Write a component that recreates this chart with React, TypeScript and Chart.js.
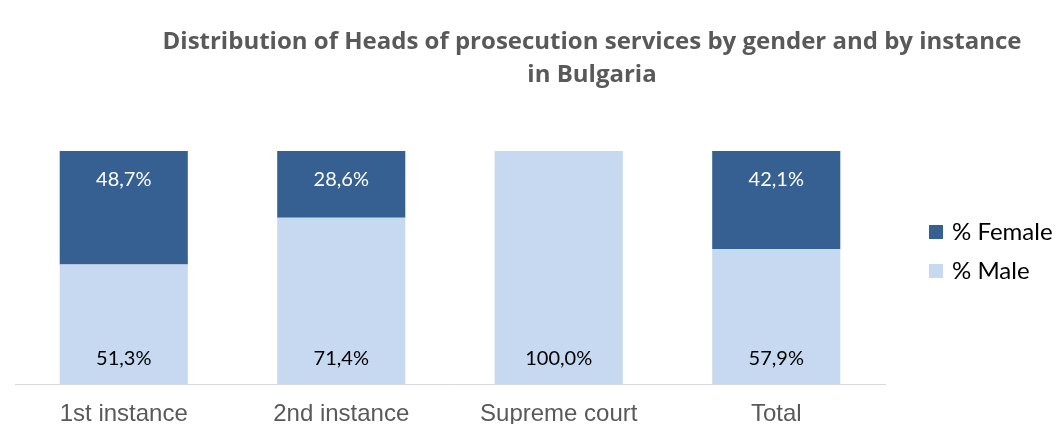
import React, { useEffect, useRef } from "react";
import { Chart, registerables } from "chart.js";

Chart.register(...registerables);

const categories = ["1st instance", "2nd instance", "Supreme court", "Total"];
const malePct = [51.3, 71.4, 100.0, 57.9];
const femalePct = [48.7, 28.6, 0, 42.1];
const seriesNames = ["% Male", "% Female"];
const titleLines = [
  "Distribution of Heads of prosecution services by gender and by instance",
  "in Bulgaria",
];

const MALE_COLOR = "#C6D9F1";
const FEMALE_COLOR = "#366092";
const LABEL_FONT = "Lato, 'Open Sans', sans-serif";

const fmt = (v: number) => v.toFixed(1).replace(".", ",") + "%";

const decorPlugin = {
  id: "decor",
  afterDraw(chart: any) {
    const ctx = chart.ctx;
    ctx.save();
    // Title
    ctx.fillStyle = "#595959";
    ctx.font = `bold 24px 'Open Sans', sans-serif`;
    ctx.textAlign = "center";
    ctx.textBaseline = "middle";
    ctx.fillText(titleLines[0], 592, 42);
    ctx.fillText(titleLines[1], 592, 75);

    // Data labels
    ctx.font = `20px ${LABEL_FONT}`;
    const maleMeta = chart.getDatasetMeta(0);
    const femaleMeta = chart.getDatasetMeta(1);
    maleMeta.data.forEach((bar: any, i: number) => {
      const v = malePct[i];
      if (!v) return;
      ctx.fillStyle = "#000000";
      ctx.fillText(fmt(v), bar.x, bar.base - 25);
    });
    femaleMeta.data.forEach((bar: any, i: number) => {
      const v = femalePct[i];
      if (!v) return;
      ctx.fillStyle = "#FFFFFF";
      ctx.fillText(fmt(v), bar.x, bar.y + 29);
    });

    // Legend
    const items = [
      { name: seriesNames[1], color: FEMALE_COLOR, y: 232 },
      { name: seriesNames[0], color: MALE_COLOR, y: 271 },
    ];
    ctx.font = `24px ${LABEL_FONT}`;
    ctx.textAlign = "left";
    items.forEach((it) => {
      ctx.fillStyle = it.color;
      ctx.fillRect(929, it.y - 7, 14, 14);
      ctx.fillStyle = "#000000";
      ctx.fillText(it.name, 952, it.y);
    });
    ctx.restore();
  },
};

export default function App() {
  const ref = useRef<HTMLCanvasElement>(null);
  useEffect(() => {
    const chart = new Chart(ref.current as HTMLCanvasElement, {
      type: "bar",
      data: {
        labels: categories,
        datasets: [
          {
            label: seriesNames[0],
            data: malePct,
            backgroundColor: MALE_COLOR,
            categoryPercentage: 1,
            barPercentage: 0.589,
          },
          {
            label: seriesNames[1],
            data: femalePct,
            backgroundColor: FEMALE_COLOR,
            categoryPercentage: 1,
            barPercentage: 0.589,
          },
        ],
      },
      options: {
        animation: false,
        responsive: false,
        devicePixelRatio: 1,
        layout: { padding: { left: 15, right: 172, top: 151, bottom: 0 } },
        plugins: {
          legend: { display: false },
          title: { display: false },
          tooltip: { enabled: false },
        },
        scales: {
          x: {
            stacked: true,
            grid: { display: false, drawTicks: false },
            border: { display: true, color: "#D9D9D9", width: 1 },
            ticks: {
              color: "#595959",
              font: { family: "'Liberation Sans', Arial, sans-serif", size: 24 },
              padding: 16,
              maxRotation: 0,
            },
            afterFit: (scale: any) => {
              scale.height = 40;
            },
          },
          y: {
            stacked: true,
            display: false,
            min: 0,
            max: 100,
          },
        },
      },
      plugins: [decorPlugin],
    });
    return () => chart.destroy();
  }, []);
  return (
    <div style={{ position: "absolute", left: 0, top: 0, width: 1057, height: 424, background: "#fff" }}>
      <canvas ref={ref} width={1057} height={424} />
    </div>
  );
}
